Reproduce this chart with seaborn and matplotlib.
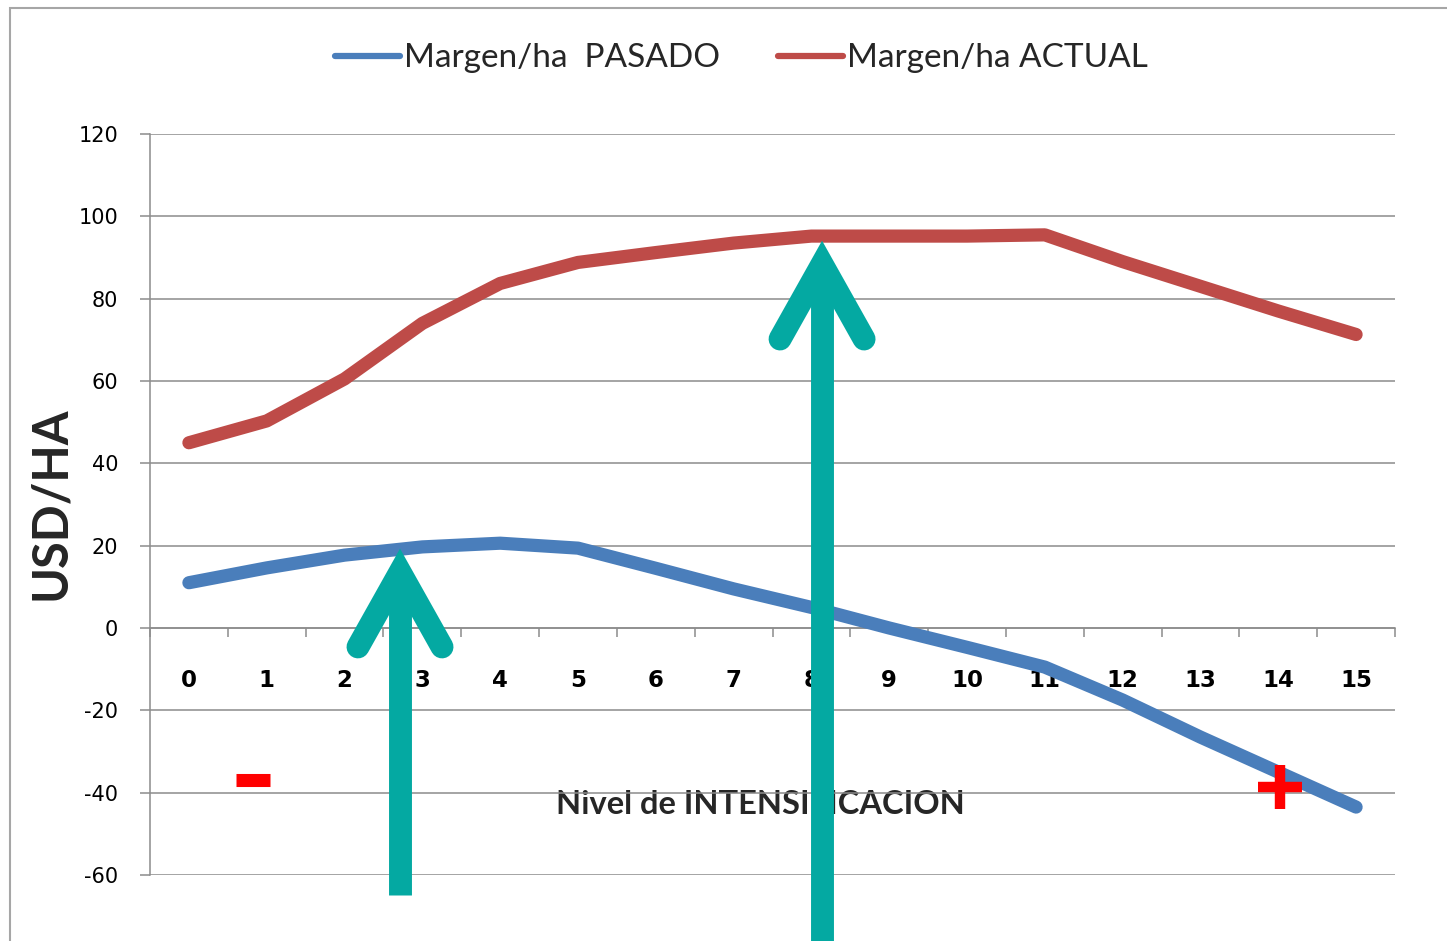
import matplotlib
matplotlib.use("Agg")
import matplotlib.pyplot as plt
from matplotlib.patches import Rectangle
import numpy as np
import pandas as pd
import seaborn as sns

# ---- data ----
nivel = list(range(16))
margen_pasado = [11, 14.6, 17.7, 19.7, 20.6, 19.4, 14.5, 9.5, 5, 0, -4.7, -9.5, -17.5, -26.5, -35, -43.5]
margen_actual = [45, 50.3, 60.5, 74, 83.7, 88.8, 91.2, 93.5, 95.2, 95.2, 95.2, 95.5, 89, 83, 77, 71.3]
series_labels = ["Margen/ha  PASADO", "Margen/ha ACTUAL"]
y_ticks = list(range(-60, 121, 20))
x_tick_labels = [str(v) for v in nivel]

BLUE = "#4A7EBB"
RED = "#BE4B48"
TEAL = "#04A9A2"
GRID = "#8c8c8c"

sns.set_theme(style="white")
plt.rcParams["font.family"] = ["DejaVu Sans"]

fig = plt.figure(figsize=(14.47, 9.41), dpi=100)
ax = fig.add_axes([150 / 1447, 66 / 941, 1245 / 1447, 741 / 941])

df = pd.DataFrame({"nivel": nivel, "pasado": margen_pasado, "actual": margen_actual})
sns.lineplot(data=df, x="nivel", y="pasado", ax=ax, color=BLUE, lw=9.5,
             label=series_labels[0], zorder=5, solid_capstyle="round", solid_joinstyle="round")
sns.lineplot(data=df, x="nivel", y="actual", ax=ax, color=RED, lw=9.5,
             label=series_labels[1], zorder=5, solid_capstyle="round", solid_joinstyle="round")

ax.set_xlim(-0.5, 15.5)
ax.set_ylim(-60, 120)

# axes styling
for s in ["top", "right"]:
    ax.spines[s].set_visible(False)
ax.spines["left"].set_color(GRID)
ax.spines["left"].set_linewidth(1.1)
ax.spines["bottom"].set_position(("data", 0))
ax.spines["bottom"].set_color(GRID)
ax.spines["bottom"].set_linewidth(1.1)
ax.set_axisbelow(True)
ax.yaxis.grid(True, color=GRID, lw=1.1)
ax.xaxis.grid(False)

ax.set_yticks(y_ticks)
ax.set_yticklabels([str(v) for v in y_ticks])
ax.tick_params(axis="y", which="major", length=7, width=1.1, color=GRID, pad=16,
               labelsize=15, labelcolor="black", direction="out", left=True)

ax.set_xticks(nivel)
ax.set_xticklabels(x_tick_labels)
ax.set_xticks(np.arange(-0.5, 16, 1), minor=True)
ax.tick_params(axis="x", which="major", length=0, pad=29.5, labelsize=16.5, labelcolor="black")
ax.tick_params(axis="x", which="minor", length=6.5, width=1.1, color=GRID, direction="out", bottom=True)
for lbl in ax.get_xticklabels():
    lbl.set_fontweight("bold")

# axis labels
ax.set_ylabel("USD/HA", fontsize=35, fontweight="bold", family=["Lato", "DejaVu Sans"])
ax.yaxis.set_label_coords(-0.062, 0.502)
ax.set_xlabel("Nivel de INTENSIFICACION", fontsize=23.5, fontweight="bold", family=["Lato", "DejaVu Sans"])
ax.xaxis.label.set_va("center")
ax.xaxis.set_label_coords(0.49, 0.0958)

# legend
handles, labels = ax.get_legend_handles_labels()
ax.get_legend().remove()
leg = fig.legend(handles, labels, loc="center", bbox_to_anchor=(0.5124, 0.938), ncol=2,
                 frameon=False, prop=dict(family="Lato", size=24), handlelength=1.95,
                 handletextpad=0.12, columnspacing=1.75)
for h in leg.get_lines():
    h.set_linewidth(4.5)
    h.set_solid_capstyle("round")

# signs
ax.plot([0.82], [-36.9], marker="_", markersize=24, markeredgewidth=9.4, color="#FF0000",
        zorder=6, clip_on=False)
ax.plot([14.02], [-38.6], marker="+", markersize=32, markeredgewidth=7.5, color="#FF0000",
        zorder=6, clip_on=False)

# arrows (annotation geometry)
def up_arrow(xc, apex, arm_dx, arm_y, bottom):
    ax.plot([xc - arm_dx, xc, xc + arm_dx], [arm_y, apex, arm_y], color=TEAL, lw=16.5,
            solid_joinstyle="miter", solid_capstyle="round", clip_on=False, zorder=10)
    ax.plot([xc, xc], [bottom, apex], color=TEAL, lw=16.5, solid_capstyle="butt",
            clip_on=False, zorder=10)

up_arrow(2.713, 13.6, 0.54, -4.6, -64.8)
up_arrow(8.137, 88.4, 0.54, 70.2, -85)

# outer chart border
fig.add_artist(Rectangle((10 / 1447, -0.1), 1.2, 1 - 8 / 941 + 0.1, transform=fig.transFigure,
                         fill=False, edgecolor="#a6a6a6", lw=1.5))

fig.savefig("out.png", dpi=100)
